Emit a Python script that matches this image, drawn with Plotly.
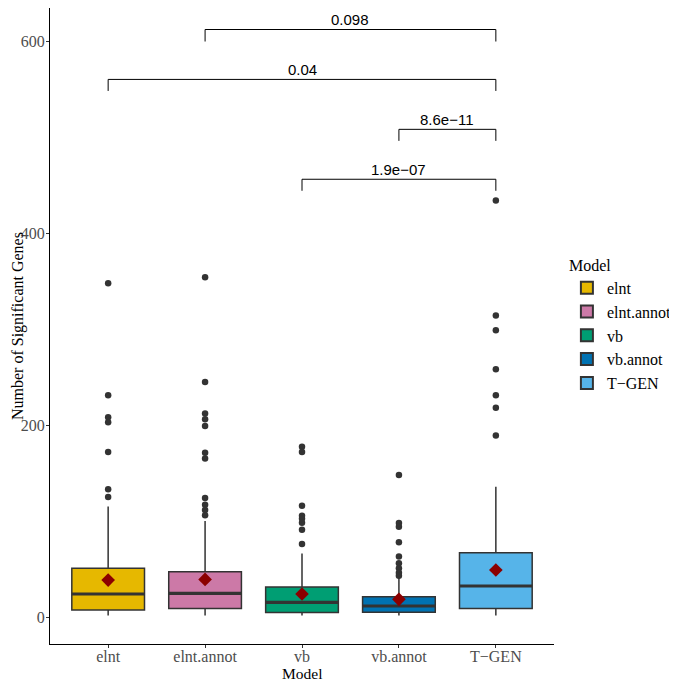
import plotly.graph_objects as go

models = ["elnt", "elnt.annot", "vb", "vb.annot", "T\u2212GEN"]
colors = ["#E6B800", "#CC79A7", "#009E73", "#0072B2", "#56B4E9"]

q1 = [7.3, 9.0, 4.8, 4.9, 9.0]
median = [24.0, 24.7, 15.3, 11.5, 32.3]
q3 = [50.7, 47.2, 31.3, 21.2, 67.0]
lowerfence = [1.5, 1.5, 1.5, 1.5, 1.5]
upperfence = [115.0, 100.0, 66.3, 42.0, 135.7]
means = [38.5, 39.2, 24.0, 18.4, 49.0]

outliers = [
    [347.6, 231.0, 208.0, 203.0, 172.0, 133.0, 125.0],
    [354.0, 244.8, 212.0, 206.0, 199.0, 171.0, 165.0, 124.0, 117.0, 111.5, 106.0],
    [177.4, 172.0, 116.0, 105.5, 102.4, 98.3, 91.0, 76.0],
    [148.0, 98.0, 94.0, 78.0, 63.0, 56.0, 50.7, 46.0, 43.0],
    [434.0, 314.0, 298.6, 258.0, 231.0, 218.0, 189.0],
]

# comparisons: (group a index, group b index, p label, bracket height, tick end)
comp_a = [1, 0, 3, 2]
comp_b = [4, 4, 4, 4]
comp_p = ["0.098", "0.04", "8.6e\u221211", "1.9e\u221207"]
comp_y = [612.0, 560.0, 508.0, 456.0]
comp_tip = [599.5, 548.0, 496.0, 444.0]

box_w = 0.75
xs = list(range(len(models)))

fig = go.Figure()

for i, m in enumerate(models):
    fig.add_trace(go.Box(
        x=[xs[i]], q1=[q1[i]], median=[median[i]], q3=[q3[i]],
        lowerfence=[lowerfence[i]], upperfence=[upperfence[i]],
        name=m, fillcolor=colors[i], line=dict(color="#333333", width=1.5),
        width=box_w, whiskerwidth=0, boxpoints=False, showlegend=True,
        hoverinfo="skip",
    ))

for i in range(len(models)):
    fig.add_trace(go.Scatter(
        x=[xs[i] - box_w / 2, xs[i] + box_w / 2], y=[median[i], median[i]],
        mode="lines", line=dict(color="#333333", width=3.2),
        showlegend=False, hoverinfo="skip",
    ))
    fig.add_trace(go.Scatter(
        x=[xs[i]] * len(outliers[i]), y=outliers[i], mode="markers",
        marker=dict(color="#333333", size=6.5),
        showlegend=False, hoverinfo="skip",
    ))

fig.add_trace(go.Scatter(
    x=xs, y=means, mode="markers",
    marker=dict(symbol="diamond", color="#8B0000", size=10.5),
    showlegend=False, hoverinfo="skip",
))

for a, b, p, yv, yt in zip(comp_a, comp_b, comp_p, comp_y, comp_tip):
    fig.add_trace(go.Scatter(
        x=[xs[a], xs[a], xs[b], xs[b]], y=[yt, yv, yv, yt],
        mode="lines", line=dict(color="black", width=1),
        showlegend=False, hoverinfo="skip",
    ))
    fig.add_annotation(
        x=(xs[a] + xs[b]) / 2, y=yv, text=p, showarrow=False,
        yanchor="bottom", yshift=-1,
        font=dict(family="Liberation Sans, Arial, sans-serif", size=15, color="black"),
    )

serif = "Liberation Serif, Times New Roman, serif"

# axis titles as text beside the axes
fig.add_annotation(
    x=0.5, xref="paper", y=0, yref="paper", yanchor="top", yshift=-20,
    text="Model", showarrow=False, borderpad=0,
    font=dict(family=serif, size=15.5, color="black"),
)
fig.add_annotation(
    x=0, xref="paper", y=0.5, yref="paper", xanchor="center", xshift=-32,
    text="Number of Significant Genes", textangle=-90, showarrow=False, borderpad=0,
    font=dict(family=serif, size=16, color="black"),
)

fig.update_layout(
    width=669, height=673,
    margin=dict(l=42, r=120, t=0, b=37),
    plot_bgcolor="white", paper_bgcolor="white",
    boxmode="overlay",
    font=dict(family=serif, size=16, color="black"),
    legend=dict(
        title=dict(text="Model", font=dict(family=serif, size=16, color="black")),
        x=1.0256, xanchor="left", y=0.6195, yanchor="top",
        font=dict(family=serif, size=16, color="black"),
        bgcolor="rgba(0,0,0,0)", itemsizing="constant",
    ),
    xaxis=dict(
        range=[-0.6, 4.6], tickmode="array", tickvals=xs, ticktext=models,
        showgrid=False, zeroline=False, showline=True, linecolor="black", linewidth=1.2,
        ticks="outside", ticklen=3, tickcolor="#333333", automargin=False,
        ticklabelstandoff=-5,
        tickfont=dict(family=serif, size=16, color="#4D4D4D"),
    ),
    yaxis=dict(
        range=[-28.1, 634.4], tickvals=[0, 200, 400, 600],
        showgrid=False, zeroline=False, showline=True, linecolor="black", linewidth=1.2,
        ticks="outside", ticklen=3, tickcolor="#333333", automargin=False,
        ticklabelstandoff=-2,
        tickfont=dict(family=serif, size=16, color="#4D4D4D"),
    ),
)

fig.write_html("out.html")
